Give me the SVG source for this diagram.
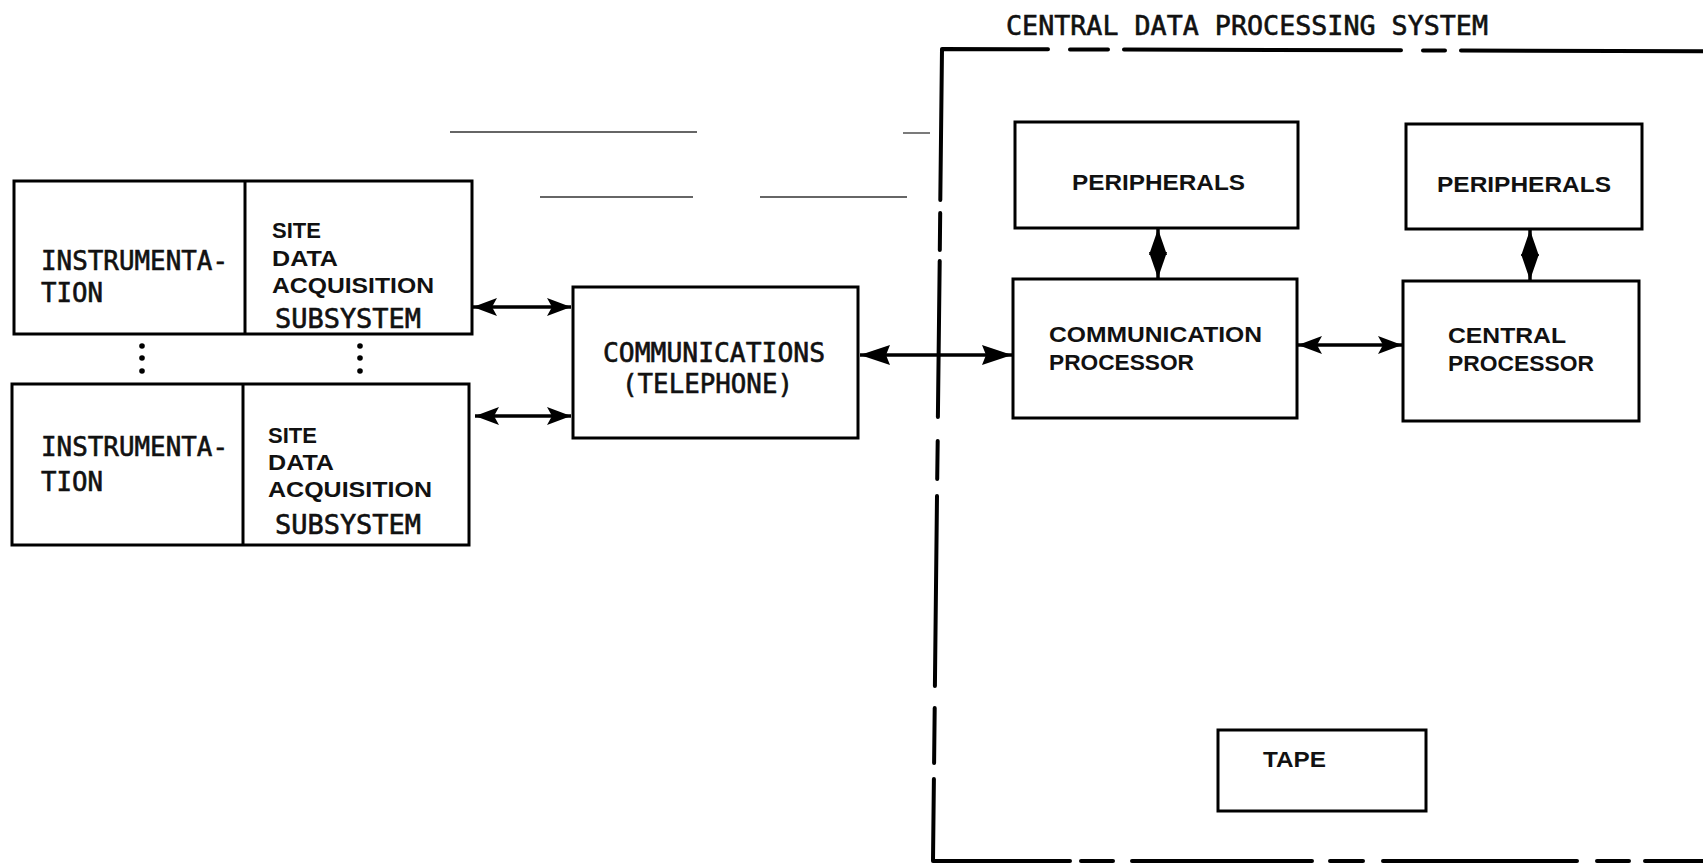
<svg xmlns="http://www.w3.org/2000/svg" width="1703" height="865" viewBox="0 0 1703 865">
<style>
.box{fill:#fff;stroke:#000;stroke-width:3}
.div{stroke:#000;stroke-width:3}
.mono{font-family:"DejaVu Sans Mono","Liberation Mono",monospace;font-size:26px;fill:#111;stroke:#111;stroke-width:0.6}
.sans{font-family:"Liberation Sans",Arial,sans-serif;font-weight:bold;font-size:22px;fill:#111}
.conn{stroke:#000;stroke-width:3.5;fill:none}
.head{fill:#000;stroke:none}
.bnd{stroke:#000;stroke-width:4;fill:none;stroke-linecap:round;stroke-linejoin:round}
.faint{stroke:#333;stroke-width:1.3;fill:none}
.dot{fill:#000}
</style>
<defs>
<marker id="hs" markerUnits="userSpaceOnUse" markerWidth="26" markerHeight="20" refX="24" refY="9" orient="auto-start-reverse" viewBox="0 0 26 20"><path d="M0,0 L24,9 L0,18 L5,9 z" fill="#000"/></marker>
<marker id="hm" markerUnits="userSpaceOnUse" markerWidth="32" markerHeight="22" refX="30" refY="10" orient="auto-start-reverse" viewBox="0 0 32 22"><path d="M0,0 L30,10 L0,20 L4,10 z" fill="#000"/></marker>
</defs>
<rect width="1703" height="865" fill="#fff"/>

<g id="scan-marks">
<line class="faint" x1="450" y1="132" x2="697" y2="132"/>
<line class="faint" x1="903" y1="133" x2="930" y2="133"/>
<line class="faint" x1="540" y1="197" x2="693" y2="197"/>
<line class="faint" x1="760" y1="197" x2="907" y2="197"/>
</g>

<g id="boundary">
<path class="bnd" d="M940.3,200 L942,49 L1048,49.3"/>
<path class="bnd" d="M1070,49.4 L1108,49.5 M1124,49.6 L1401,50.3 M1423,50.4 L1445,50.5 M1461,50.6 L1703,51.2"/>
<path class="bnd" d="M940.2,213 L939.8,250 M939.7,261 L937.9,417 M937.7,441 L937.2,479 M937,496 L934.9,686 M934.7,708 L934.1,763"/>
<path class="bnd" d="M933.9,779 L933,861 L1070,861 M1081,861 L1113,861 M1132,861 L1312,861 M1330,861 L1363,861 M1383,861 L1577,861 M1597,861 L1629,861 M1645,861 L1703,861"/>
<text class="mono" x="1006" y="35" font-size="29" textLength="482" lengthAdjust="spacingAndGlyphs">CENTRAL DATA PROCESSING SYSTEM</text>
</g>

<g id="site1">
<rect class="box" x="14" y="181" width="458" height="153"/>
<line class="div" x1="245" y1="181" x2="245" y2="334"/>
<text class="mono" x="41" y="270" textLength="187" lengthAdjust="spacingAndGlyphs">INSTRUMENTA-</text>
<text class="mono" x="41" y="302" textLength="62" lengthAdjust="spacingAndGlyphs">TION</text>
<text class="sans" x="272" y="238">SITE</text>
<text class="sans" x="272" y="266" textLength="66" lengthAdjust="spacingAndGlyphs">DATA</text>
<text class="sans" x="272" y="293" textLength="162" lengthAdjust="spacingAndGlyphs">ACQUISITION</text>
<text class="mono" x="275" y="328" textLength="146" lengthAdjust="spacingAndGlyphs">SUBSYSTEM</text>
</g>

<g id="ellipsis">
<circle class="dot" cx="142" cy="346" r="2.8"/>
<circle class="dot" cx="142" cy="358" r="2.8"/>
<circle class="dot" cx="142" cy="371" r="2.8"/>
<circle class="dot" cx="360" cy="346" r="2.8"/>
<circle class="dot" cx="360" cy="358" r="2.8"/>
<circle class="dot" cx="360" cy="371" r="2.8"/>
</g>

<g id="site2">
<rect class="box" x="12" y="384" width="457" height="161"/>
<line class="div" x1="243" y1="384" x2="243" y2="545"/>
<text class="mono" x="41" y="456" textLength="187" lengthAdjust="spacingAndGlyphs">INSTRUMENTA-</text>
<text class="mono" x="41" y="491" textLength="62" lengthAdjust="spacingAndGlyphs">TION</text>
<text class="sans" x="268" y="443">SITE</text>
<text class="sans" x="268" y="470" textLength="66" lengthAdjust="spacingAndGlyphs">DATA</text>
<text class="sans" x="268" y="497" textLength="164" lengthAdjust="spacingAndGlyphs">ACQUISITION</text>
<text class="mono" x="275" y="534" textLength="146" lengthAdjust="spacingAndGlyphs">SUBSYSTEM</text>
</g>

<g id="communications">
<rect class="box" x="573" y="287" width="285" height="151"/>
<text class="mono" x="603" y="362" font-size="28" textLength="222" lengthAdjust="spacingAndGlyphs">COMMUNICATIONS</text>
<text class="mono" x="622" y="393" font-size="28" textLength="171" lengthAdjust="spacingAndGlyphs">(TELEPHONE)</text>
</g>

<g id="peripherals1">
<rect class="box" x="1015" y="122" width="283" height="106"/>
<text class="sans" x="1072" y="190" font-size="24" textLength="173" lengthAdjust="spacingAndGlyphs">PERIPHERALS</text>
</g>

<g id="peripherals2">
<rect class="box" x="1406" y="124" width="236" height="105"/>
<text class="sans" x="1437" y="192" font-size="24" textLength="174" lengthAdjust="spacingAndGlyphs">PERIPHERALS</text>
</g>

<g id="comm-processor">
<rect class="box" x="1013" y="279" width="284" height="139"/>
<text class="sans" x="1049" y="342" font-size="23" textLength="213" lengthAdjust="spacingAndGlyphs">COMMUNICATION</text>
<text class="sans" x="1049" y="370" font-size="23" textLength="145" lengthAdjust="spacingAndGlyphs">PROCESSOR</text>
</g>

<g id="central-processor">
<rect class="box" x="1403" y="281" width="236" height="140"/>
<text class="sans" x="1448" y="343" font-size="23" textLength="118" lengthAdjust="spacingAndGlyphs">CENTRAL</text>
<text class="sans" x="1448" y="371" font-size="23" textLength="146" lengthAdjust="spacingAndGlyphs">PROCESSOR</text>
</g>

<g id="tape">
<rect class="box" x="1218" y="730" width="208" height="81"/>
<text class="sans" x="1263" y="767" font-size="23" textLength="63" lengthAdjust="spacingAndGlyphs">TAPE</text>
</g>

<g id="connectors">
<line class="conn" x1="473" y1="307" x2="571" y2="307" marker-start="url(#hs)" marker-end="url(#hs)"/>
<line class="conn" x1="475" y1="416" x2="571" y2="416" marker-start="url(#hs)" marker-end="url(#hs)"/>
<line class="conn" x1="860" y1="355" x2="1012" y2="355" marker-start="url(#hm)" marker-end="url(#hm)"/>
<line class="conn" x1="1298" y1="345" x2="1402" y2="345" marker-start="url(#hs)" marker-end="url(#hs)"/>
<line class="conn" x1="1158" y1="229" x2="1158" y2="278"/>
<polygon class="head" points="1158,229 1149,255 1167,255"/>
<polygon class="head" points="1158,278 1149,252 1167,252"/>
<line class="conn" x1="1530" y1="230" x2="1530" y2="280"/>
<polygon class="head" points="1530,230 1521,256 1539,256"/>
<polygon class="head" points="1530,280 1521,254 1539,254"/>
</g>
</svg>
